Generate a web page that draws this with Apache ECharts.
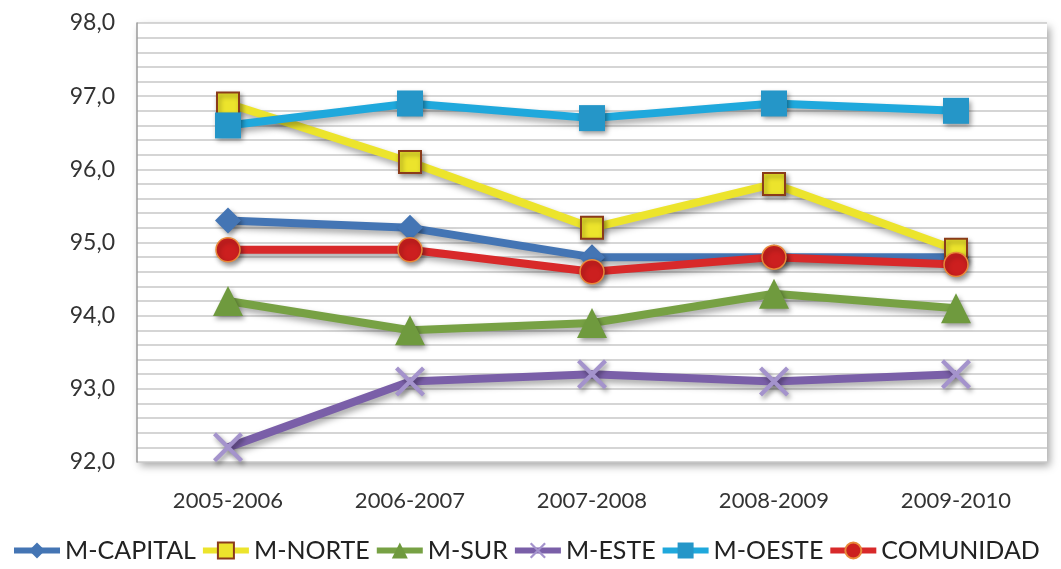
<!DOCTYPE html>
<html>
<head>
<meta charset="utf-8">
<script src="https://cdn.jsdelivr.net/npm/echarts@6/dist/echarts.min.js"></script>
<style>
  html, body { margin: 0; padding: 0; background: #fff; }
  #chart { width: 1061px; height: 569px; }
</style>
</head>
<body>
<div id="chart"></div>
<script>
const categories = ['2005-2006', '2006-2007', '2007-2008', '2008-2009', '2009-2010']
const capital = [95.3, 95.2, 94.8, 94.8, 94.8]
const norte = [96.9, 96.1, 95.2, 95.8, 94.9]
const sur = [94.2, 93.8, 93.9, 94.3, 94.1]
const este = [92.2, 93.1, 93.2, 93.1, 93.2]
const oeste = [96.6, 96.9, 96.7, 96.9, 96.8]
const comunidad = [94.9, 94.9, 94.6, 94.8, 94.7]

const font = 'Lato, "Open Sans", sans-serif'
const crossPath = 'path://M0,1 L1,0 L10,9 L9,10 Z M9,0 L10,1 L1,10 L0,9 Z'

const makeSeries = (name, data, color, symbol, size, itemStyle) => ({
  name,
  type: 'line',
  data,
  symbol,
  symbolSize: size,
  lineStyle: {
    width: 8,
    color,
    shadowColor: 'rgba(0,0,0,0.35)',
    shadowBlur: 6,
    shadowOffsetX: 2,
    shadowOffsetY: 4
  },
  itemStyle: Object.assign({
    color,
    shadowColor: 'rgba(0,0,0,0.4)',
    shadowBlur: 5,
    shadowOffsetX: 2,
    shadowOffsetY: 3
  }, itemStyle || {}),
  emphasis: { disabled: true }
})

const chart = echarts.init(document.getElementById('chart'))

chart.setOption({
  backgroundColor: '#fff',
  animation: false,
  legend: {
    left: 6,
    bottom: 1,
    width: 1055,
    itemWidth: 46,
    itemHeight: 20,
    itemGap: 4,
    lineStyle: { width: 6, shadowBlur: 0, shadowOffsetX: 0, shadowOffsetY: 0 },
    textStyle: { fontFamily: font, fontSize: 25, color: '#222' },
    data: ['M-CAPITAL', 'M-NORTE', 'M-SUR', 'M-ESTE', 'M-OESTE', 'COMUNIDAD']
  },
  grid: {
    left: 137,
    right: 14,
    top: 23,
    bottom: 107,
    show: true,
    backgroundColor: '#fff',
    borderWidth: 0,
    shadowColor: 'rgba(0,0,0,0.35)',
    shadowBlur: 8,
    shadowOffsetX: 3,
    shadowOffsetY: 4
  },
  xAxis: {
    type: 'category',
    data: categories,
    boundaryGap: true,
    axisLine: { show: false },
    axisTick: { show: false },
    axisLabel: { fontFamily: font, fontSize: 22, color: '#333', margin: 28 }
  },
  yAxis: {
    type: 'value',
    min: 92,
    max: 98,
    interval: 1,
    axisLine: { show: true, lineStyle: { color: '#9a9a9a', width: 1.5 } },
    axisTick: { show: false },
    axisLabel: {
      fontFamily: font,
      fontSize: 23,
      color: '#333',
      margin: 22,
      formatter: v => v.toFixed(1).replace('.', ',')
    },
    splitLine: { lineStyle: { color: '#c8c8c8', width: 1.5 } },
    minorTick: { show: false, splitNumber: 5 },
    minorSplitLine: { show: true, lineStyle: { color: '#c8c8c8', width: 1.5 } }
  },
  series: [
    makeSeries('M-CAPITAL', capital, '#4475b4', 'diamond', 26),
    makeSeries('M-NORTE', norte, '#ece42c', 'rect', 22, { borderColor: '#8a3b1a', borderWidth: 2 }),
    makeSeries('M-SUR', sur, '#77a144', 'triangle', 30, { color: '#6f9a3e' }),
    makeSeries('M-ESTE', este, '#7a5fa8', crossPath, 30, { color: '#a493cc' }),
    makeSeries('M-OESTE', oeste, '#1fa8dc', 'rect', 26, { color: '#2596c8' }),
    makeSeries('COMUNIDAD', comunidad, '#d8292a', 'circle', 24, { color: '#cc1f1f', borderColor: '#e88a3a', borderWidth: 1.5 })
  ]
})

window.addEventListener('resize', () => chart.resize())
</script>
</body>
</html>
